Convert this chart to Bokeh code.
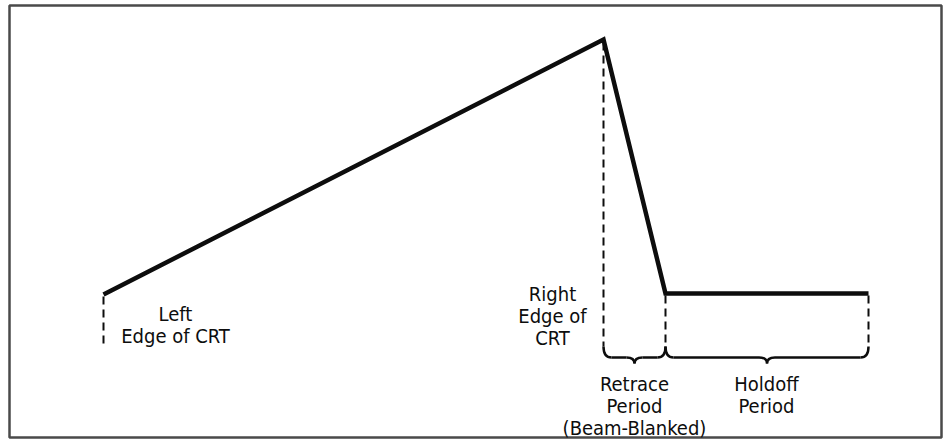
from bokeh.plotting import figure
from bokeh.models import Range1d, ColumnDataSource
from bokeh.core.properties import value
from bokeh.embed import file_html
from bokeh.resources import INLINE

# Waveform (time, level) — pixel-like units, level measured downward
wave_t = [103, 603, 665, 868]
wave_v = [294, 39, 293, 293]

# Dashed marker lines: x, top, bottom
mark_x = [103, 603, 665, 868]
mark_top = [296, 42, 295, 295]
mark_bot = [343, 346, 347, 347]

# Braces: start, end, baseline
brace_x0 = [603, 665]
brace_x1 = [665, 868]
brace_y = [357, 357]

# Frame
frame_l, frame_r, frame_t, frame_b = 9, 941, 5, 437

# Labels
label_x = [175, 175, 552, 552, 552, 634, 634, 634, 766, 766]
label_y = [313, 335, 293, 315, 337, 383, 405, 427, 383, 405]
label_text = ["Left", "Edge of CRT", "Right", "Edge of", "CRT",
              "Retrace", "Period", "(Beam-Blanked)", "Holdoff", "Period"]

W, H = 943, 439
p = figure(width=W, height=H, output_backend="svg", toolbar_location=None,
           x_range=Range1d(0, W), y_range=Range1d(H, 0),
           min_border=0)
p.axis.visible = False
p.grid.visible = False
p.outline_line_color = None
p.background_fill_color = "white"

ink = "#0d0d0d"

# frame
p.quad(left=[frame_l], right=[frame_r], top=[frame_t], bottom=[frame_b],
       fill_color=None, line_color="#4a4a4a", line_width=2.5)

# dashed markers
p.segment(x0=mark_x, y0=mark_top, x1=mark_x, y1=mark_bot,
          line_color=ink, line_width=2, line_dash="8 5")

# braces
for x0, x1, yb in zip(brace_x0, brace_x1, brace_y):
    xm = (x0 + x1) / 2
    r = 8
    tip = 6
    lift = 11
    p.quadratic(x0=[x0, x1], y0=[yb - lift, yb - lift],
                x1=[x0 + r, x1 - r], y1=[yb, yb],
                cx=[x0, x1], cy=[yb, yb], line_color=ink, line_width=2.5)
    p.segment(x0=[x0 + r, xm + r], y0=[yb, yb], x1=[xm - r, x1 - r], y1=[yb, yb],
              line_color=ink, line_width=2.5)
    p.quadratic(x0=[xm - r, xm + r], y0=[yb, yb],
                x1=[xm, xm], y1=[yb + tip, yb + tip],
                cx=[xm, xm], cy=[yb, yb], line_color=ink, line_width=2.5)

# waveform
p.line(wave_t, wave_v, line_color=ink, line_width=4.5, line_join="miter")

src = ColumnDataSource(dict(x=label_x, y=label_y, t=label_text))
p.text(x="x", y="y", text="t", source=src, text_align="center",
       text_baseline="middle", text_color=ink, text_font_size="20px",
       text_font=value("DejaVu Sans Condensed"))

open("out.html", "w").write(file_html(p, INLINE))
